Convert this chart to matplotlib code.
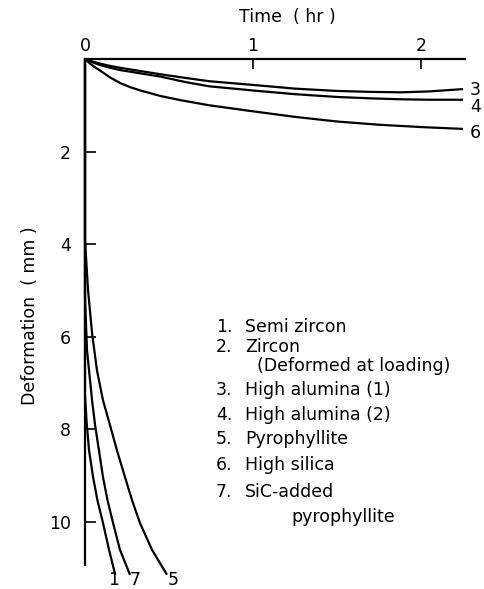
import matplotlib
matplotlib.use("Agg")
import matplotlib.pyplot as plt

# ---- data ----
t3 = [0, 0.02, 0.05, 0.09, 0.15, 0.21, 0.33, 0.45, 0.6, 0.74, 1.0, 1.25, 1.5, 1.7, 1.88, 2.05, 2.25]
d3 = [0, 0.03, 0.06, 0.1, 0.15, 0.19, 0.26, 0.33, 0.41, 0.48, 0.56, 0.64, 0.69, 0.71, 0.72, 0.7, 0.65]
t4 = [0, 0.02, 0.05, 0.09, 0.15, 0.21, 0.33, 0.45, 0.6, 0.74, 1.0, 1.25, 1.5, 1.7, 1.88, 2.05, 2.25]
d4 = [0, 0.04, 0.08, 0.13, 0.19, 0.24, 0.31, 0.38, 0.5, 0.59, 0.68, 0.76, 0.82, 0.85, 0.87, 0.88, 0.88]
t6 = [0, 0.015, 0.03, 0.06, 0.09, 0.15, 0.21, 0.27, 0.33, 0.45, 0.57, 0.74, 1.0, 1.25, 1.5, 1.75, 2.0, 2.25]
d6 = [0, 0.05, 0.1, 0.18, 0.25, 0.4, 0.52, 0.61, 0.68, 0.8, 0.89, 1.0, 1.13, 1.25, 1.35, 1.42, 1.47, 1.51]
t5 = [0, 0.0, 0.018, 0.042, 0.071, 0.107, 0.149, 0.19, 0.238, 0.28, 0.327, 0.399, 0.488]
d5 = [0, 3.91, 4.99, 5.92, 6.72, 7.37, 7.91, 8.45, 9.03, 9.53, 10.02, 10.6, 11.14]
t7 = [0, 0.0, 0.012, 0.042, 0.06, 0.083, 0.107, 0.134, 0.167, 0.208, 0.268]
d7 = [0, 5.14, 6.29, 7.37, 7.91, 8.45, 9.03, 9.53, 10.02, 10.6, 11.14]
t1 = [0, 0.0, 0.01, 0.024, 0.048, 0.074, 0.107, 0.143, 0.18]
d1 = [0, 7.26, 7.86, 8.45, 9.03, 9.53, 10.02, 10.6, 11.14]

x_ticks = [0, 1, 2]
y_ticks = [2, 4, 6, 8, 10]
legend_lines = [
    ("1.", "Semi zircon"),
    ("2.", "Zircon"),
    ("", "(Deformed at loading)"),
    ("3.", "High alumina (1)"),
    ("4.", "High alumina (2)"),
    ("5.", "Pyrophyllite"),
    ("6.", "High silica"),
    ("7.", "SiC-added"),
    ("", "pyrophyllite"),
]

W, H = 484, 589
fig = plt.figure(figsize=(W / 100, H / 100), dpi=100)
left, right, top, bottom = 85, 465, 59, 565
ax = fig.add_axes([left / W, 1 - bottom / H, (right - left) / W, (bottom - top) / H])
ax.set_xlim(0, (right - left) / 168)
ax.set_ylim((bottom - top) / 46.3, 0)

lw = 1.6
px = 0.72  # points per pixel
series = [(t3, d3, "3", (7, -1)), (t4, d4, "4", (7, -7)), (t6, d6, "6", (7, -4)),
          (t5, d5, "5", (6, -5)), (t7, d7, "7", (5, -5)), (t1, d1, "1", (-2, -5))]
for t, d, lab, off in series:
    ax.plot(t, d, color="black", lw=lw, clip_on=False, solid_capstyle="butt",
            solid_joinstyle="round")
    ax.annotate(lab, xy=(t[-1], d[-1]), xytext=(off[0] * px, off[1] * px),
                textcoords="offset points", ha="left" if lab in "346" else "center",
                va="center", fontsize=12.5, annotation_clip=False)

for s in ["right", "bottom"]:
    ax.spines[s].set_visible(False)
for s in ["left", "top"]:
    ax.spines[s].set_linewidth(1.6)
ax.xaxis.tick_top()
ax.xaxis.set_label_position("top")
ax.set_xticks(x_ticks)
ax.set_xticklabels([str(v) for v in x_ticks])
ax.set_yticks(y_ticks)
ax.set_yticklabels([str(v) for v in y_ticks])
ax.tick_params(axis="x", direction="in", length=7, width=1.2, pad=3, labelsize=12.5)
ax.tick_params(axis="y", direction="in", length=8, width=1.2, pad=10, labelsize=12.5)
ax.patch.set_alpha(0)

fig.text(287 / W, 1 - 17 / H, "Time  ( hr )", ha="center", va="center", fontsize=12.5)
fig.text(30 / W, 1 - 316 / H, "Deformation  ( mm )", ha="center", va="center",
         rotation=90, fontsize=12.5)

ys = [327, 347, 366, 390, 415, 439, 465, 492, 517]
for (num, txt), y in zip(legend_lines, ys):
    if num:
        fig.text(216 / W, 1 - y / H, num, ha="left", va="center", fontsize=12.5)
        fig.text(245 / W, 1 - y / H, txt, ha="left", va="center", fontsize=12.5)
    else:
        x0 = 257 if txt.startswith("(") else 291
        fig.text(x0 / W, 1 - y / H, txt, ha="left", va="center", fontsize=12.5)

fig.savefig("out.png", dpi=100)
